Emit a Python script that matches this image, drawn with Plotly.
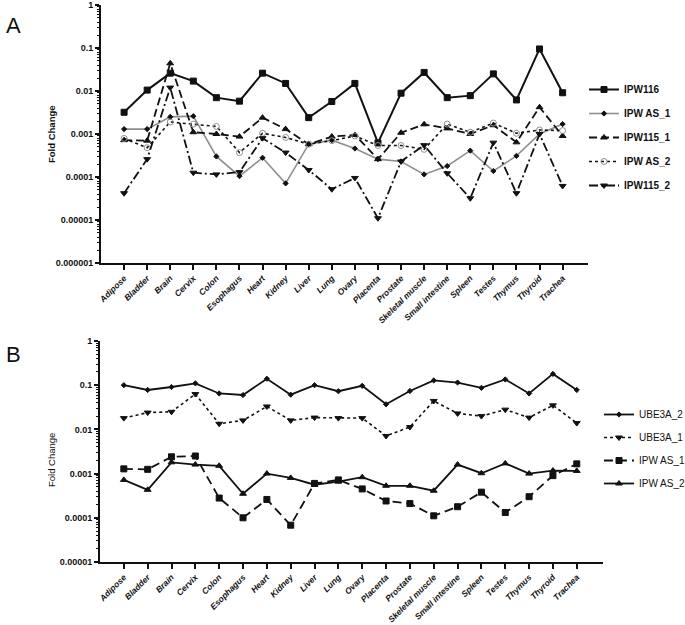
import plotly.graph_objects as go

tissues = ["Adipose", "Bladder", "Brain", "Cervix", "Colon", "Esophagus", "Heart", "Kidney",
           "Liver", "Lung", "Ovary", "Placenta", "Prostate", "Skeletal muscle", "Small intestine",
           "Spleen", "Testes", "Thymus", "Thyroid", "Trachea"]

# Panel A
ipw116 = [0.0032, 0.0105, 0.026, 0.017, 0.007, 0.0058, 0.026, 0.015, 0.0024, 0.0057,
          0.015, 0.00062, 0.0089, 0.027, 0.007, 0.0078, 0.025, 0.0062, 0.095, 0.0091]
ipw_as1_a = [0.0013, 0.0013, 0.0025, 0.0026, 0.0003, 0.000105, 0.00028, 0.000071, 0.00058, 0.00072,
             0.00046, 0.00026, 0.00023, 0.000115, 0.00018, 0.00041, 0.000138, 0.00031, 0.001, 0.0017]
ipw115_1 = [0.00072, 0.0007, 0.044, 0.0011, 0.001, 0.00087, 0.0024, 0.0013, 0.00058, 0.00087,
            0.00095, 0.00026, 0.00107, 0.00168, 0.00135, 0.001, 0.0016, 0.00064, 0.0042, 0.0009]
ipw_as2_a = [0.00079, 0.00048, 0.0019, 0.0017, 0.0015, 0.00037, 0.00104, 0.00083, 0.00058, 0.0007,
             0.0009, 0.00054, 0.00054, 0.00044, 0.0017, 0.0011, 0.0018, 0.00104, 0.00124, 0.0012]
ipw115_2 = [0.000042, 0.00026, 0.012, 0.000126, 0.000115, 0.00013, 0.0008, 0.00037, 0.000145, 0.000052,
            0.000095, 0.000011, 0.00023, 0.00055, 0.000122, 0.000032, 0.00063, 0.000042, 0.001, 0.000062]

# Panel B
ube3a_2 = [0.1, 0.078, 0.091, 0.11, 0.065, 0.06, 0.14, 0.061, 0.1, 0.073,
           0.097, 0.037, 0.074, 0.128, 0.115, 0.087, 0.135, 0.065, 0.18, 0.078]
ube3a_1 = [0.018, 0.024, 0.025, 0.063, 0.0134, 0.016, 0.033, 0.016, 0.0185, 0.018,
           0.018, 0.0071, 0.0113, 0.044, 0.023, 0.02, 0.028, 0.0185, 0.035, 0.0139]
ipw_as1_b = [0.00128, 0.00125, 0.0024, 0.0025, 0.00028, 0.0001, 0.00026, 0.000068, 0.0006, 0.00072,
             0.00045, 0.00024, 0.00021, 0.000111, 0.000178, 0.00038, 0.000132, 0.0003, 0.0009, 0.00166]
ipw_as2_b = [0.00072, 0.00043, 0.0018, 0.0016, 0.0015, 0.00035, 0.001, 0.0008, 0.00056, 0.00066,
             0.00083, 0.00053, 0.00053, 0.00041, 0.0016, 0.00102, 0.0017, 0.001, 0.00117, 0.00115]

ytick_vals_a = [1, 0.1, 0.01, 0.001, 0.0001, 0.00001, 0.000001]
ytick_text_a = ["1", "0.1", "0.01", "0.001", "0.0001", "0.00001", "0.000001"]
ytick_vals_b = [1, 0.1, 0.01, 0.001, 0.0001, 0.00001]
ytick_text_b = ["1", "0.1", "0.01", "0.001", "0.0001", "0.00001"]

FONT = "Liberation Sans, Arial, sans-serif"
BLACK = "#111111"
GRAY = "#8f8f8f"

fig = go.Figure()

def add(x, y, name, color, dash, symbol, msize, width, xa, ya, legend, mcolor=None, mline=None):
    fig.add_trace(go.Scatter(
        x=x, y=y, name=name, mode="lines+markers",
        line=dict(color=color, dash=dash, width=width),
        marker=dict(symbol=symbol, size=msize, color=mcolor or color,
                    line=dict(color=mline or color, width=1)),
        xaxis=xa, yaxis=ya, legend=legend, legendgroup=name + legend,
    ))

add(tissues, ipw116, "IPW116", BLACK, "solid", "square", 6, 2, "x", "y", "legend")
add(tissues, ipw_as1_a, "IPW AS_1", GRAY, "solid", "diamond", 4, 1.6, "x", "y", "legend", mcolor=BLACK, mline=BLACK)
add(tissues, ipw115_1, "IPW115_1", BLACK, "8px,4px", "triangle-up", 6, 1.8, "x", "y", "legend")
add(tissues, ipw_as2_a, "IPW AS_2", BLACK, "dot", "circle-open", 6, 1.6, "x", "y", "legend", mcolor=GRAY, mline=GRAY)
add(tissues, ipw115_2, "IPW115_2", BLACK, "9px,3px,2px,3px", "triangle-down", 6, 1.8, "x", "y", "legend")

add(tissues, ube3a_2, "UBE3A_2", BLACK, "solid", "diamond", 4, 1.8, "x2", "y2", "legend2")
add(tissues, ube3a_1, "UBE3A_1", BLACK, "dot", "triangle-down", 6, 1.6, "x2", "y2", "legend2")
add(tissues, ipw_as1_b, "IPW AS_1", BLACK, "9px,5px", "square", 6, 1.8, "x2", "y2", "legend2")
add(tissues, ipw_as2_b, "IPW AS_2", BLACK, "solid", "triangle-up", 6, 1.8, "x2", "y2", "legend2")

W, H = 685, 625

def px(sx):
    return sx / W

def py(sy):
    return 1 - sy / H

def minor_vals(lo):
    return [m * 10.0 ** e for e in range(lo, 0) for m in range(2, 10)]

def xaxis(left, right, anchor):
    return dict(
        domain=[px(left), px(right)], type="category", categoryorder="array", categoryarray=tissues,
        range=[-1, 20.1], anchor=anchor, automargin=False,
        showline=True, linecolor=BLACK, linewidth=2, ticks="outside",
        ticklen=5, tickwidth=1.5, tickcolor=BLACK, tickangle=-45, showgrid=False, zeroline=False,
        tickfont=dict(family=FONT, size=8.5, color=BLACK, weight="bold", style="italic"),
    )

def yaxis(top, bottom, lo, vals, text, anchor):
    return dict(
        domain=[py(bottom), py(top)], type="log", range=[lo, 0], anchor=anchor,
        automargin=False,
        showline=True, linecolor=BLACK, linewidth=2, ticks="outside", ticklen=4, tickwidth=1.5,
        tickcolor=BLACK, tickvals=vals, ticktext=text, showgrid=False, zeroline=False,
        tickfont=dict(family=FONT, size=9, color=BLACK, weight="bold"),
        minor=dict(ticks="outside", ticklen=2.5, tickcolor=BLACK, tickwidth=1,
                   tickvals=minor_vals(lo), showgrid=False),
    )

fig.update_layout(
    template="none",
    width=W, height=H, margin=dict(l=0, r=0, t=0, b=0, autoexpand=False),
    paper_bgcolor="white", plot_bgcolor="white", showlegend=True,
    xaxis=xaxis(101, 588, "y"),
    yaxis=yaxis(5, 263, -6, ytick_vals_a, ytick_text_a, "x"),
    xaxis2=xaxis(100, 603, "y2"),
    yaxis2=yaxis(341, 562, -5, ytick_vals_b, ytick_text_b, "x2"),
    legend=dict(x=px(584), y=py(75), xanchor="left", yanchor="top", tracegroupgap=5,
                font=dict(family=FONT, size=10, color=BLACK, weight="bold"), bgcolor="rgba(0,0,0,0)"),
    legend2=dict(x=px(599), y=py(400), xanchor="left", yanchor="top", tracegroupgap=4,
                 font=dict(family=FONT, size=10, color=BLACK), bgcolor="rgba(0,0,0,0)"),
    annotations=[
        dict(text="A", x=px(4), y=py(25), xref="paper", yref="paper", showarrow=False,
             xanchor="left", yanchor="middle", font=dict(family=FONT, size=22, color=BLACK)),
        dict(text="B", x=px(4), y=py(355), xref="paper", yref="paper", showarrow=False,
             xanchor="left", yanchor="middle", font=dict(family=FONT, size=22, color=BLACK)),
        dict(text="Fold Change", x=px(51), y=py(134), xref="paper", yref="paper", showarrow=False,
             xanchor="center", yanchor="middle",
             textangle=-90, font=dict(family=FONT, size=9.5, color=BLACK, weight="bold")),
        dict(text="Fold Change", x=px(51), y=py(460), xref="paper", yref="paper", showarrow=False,
             xanchor="center", yanchor="middle",
             textangle=-90, font=dict(family=FONT, size=9.5, color=BLACK)),
    ],
)

# remove the default 8px page margin so the figure fills the window exactly
fig.write_html("out.html", config={"displayModeBar": False},
               post_script="document.body.style.margin='0';")
